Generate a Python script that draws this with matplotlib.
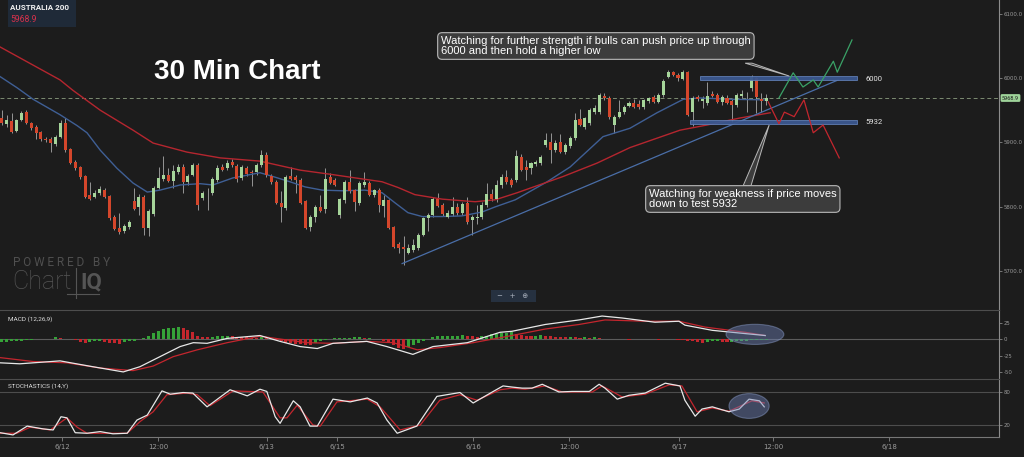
import numpy as np
import matplotlib
matplotlib.use("Agg")
import matplotlib.pyplot as plt
from matplotlib.patches import Rectangle, Ellipse, Polygon

# 30 min candles (one per bar, oldest first)
opens = [5938, 5929, 5933, 5918, 5935, 5947, 5930, 5924, 5916, 5905,
         5905, 5898, 5909, 5930, 5890, 5870, 5862, 5848, 5819, 5816,
         5822, 5826, 5817, 5785, 5768, 5763, 5769, 5809, 5800, 5816,
         5768, 5789, 5830, 5843, 5850, 5840, 5854, 5862, 5839, 5850,
         5865, 5814, 5821, 5822, 5842, 5862, 5860, 5870, 5864, 5845,
         5860, 5854, 5854, 5865, 5881, 5848, 5839, 5806, 5798, 5848,
         5847, 5842, 5809, 5769, 5785, 5800, 5797, 5847, 5842, 5788,
         5811, 5839, 5826, 5806, 5834, 5837, 5819, 5826, 5802, 5811,
         5769, 5743, 5738, 5729, 5733, 5736, 5757, 5783, 5788, 5812,
         5803, 5785, 5789, 5800, 5791, 5806, 5780, 5783, 5785, 5803,
         5820, 5812, 5834, 5847, 5842, 5842, 5878, 5862, 5860, 5866,
         5868, 5896, 5901, 5888, 5901, 5885, 5895, 5907, 5936, 5924,
         5930, 5947, 5947, 5972, 5969, 5927, 5940, 5947, 5957, 5961,
         5960, 5955, 5964, 5971, 5963, 5974, 6002, 6009, 6005, 5998,
         6009, 5947, 5971, 5964, 5961, 5975, 5974, 5962, 5969, 5964,
         5958, 5972, 5973, 5984, 6000, 5967, 5964]
highs = [5950, 5943, 5946, 5937, 5949, 5950, 5932, 5927, 5918, 5909,
         5908, 5912, 5935, 5938, 5892, 5872, 5864, 5850, 5839, 5826,
         5832, 5830, 5819, 5787, 5791, 5773, 5780, 5830, 5820, 5819,
         5797, 5832, 5862, 5879, 5860, 5865, 5866, 5866, 5851, 5868,
         5868, 5825, 5830, 5846, 5865, 5866, 5872, 5874, 5866, 5865,
         5863, 5858, 5868, 5888, 5885, 5851, 5842, 5825, 5850, 5862,
         5850, 5845, 5811, 5788, 5803, 5819, 5860, 5852, 5845, 5814,
         5842, 5857, 5828, 5840, 5854, 5840, 5828, 5830, 5819, 5813,
         5771, 5745, 5755, 5743, 5750, 5760, 5785, 5790, 5815, 5822,
         5806, 5795, 5816, 5806, 5808, 5816, 5788, 5803, 5808, 5837,
         5828, 5842, 5851, 5857, 5845, 5888, 5882, 5873, 5870, 5873,
         5881, 5915, 5915, 5904, 5913, 5899, 5910, 5946, 5952, 5940,
         5953, 5958, 5977, 5977, 5972, 5943, 5966, 5958, 5964, 5967,
         5966, 5968, 5971, 5973, 5977, 5998, 6012, 6011, 6007, 6012,
         6011, 5972, 5974, 5972, 5994, 5980, 5977, 5973, 5974, 5968,
         5977, 5981, 5978, 6005, 6002, 5977, 5975]
lows = [5927, 5924, 5914, 5916, 5933, 5928, 5920, 5905, 5902, 5901,
        5885, 5895, 5907, 5885, 5866, 5857, 5843, 5814, 5811, 5814,
        5819, 5814, 5780, 5764, 5758, 5760, 5766, 5795, 5788, 5757,
        5755, 5786, 5828, 5840, 5838, 5830, 5851, 5822, 5834, 5848,
        5795, 5811, 5795, 5819, 5839, 5855, 5857, 5862, 5839, 5842,
        5848, 5832, 5850, 5862, 5847, 5836, 5804, 5777, 5795, 5842,
        5822, 5805, 5766, 5763, 5777, 5792, 5791, 5835, 5832, 5783,
        5806, 5822, 5794, 5803, 5831, 5817, 5815, 5792, 5785, 5766,
        5736, 5729, 5710, 5727, 5730, 5733, 5755, 5763, 5785, 5800,
        5786, 5782, 5786, 5788, 5788, 5774, 5757, 5774, 5781, 5800,
        5809, 5808, 5830, 5836, 5831, 5838, 5855, 5842, 5851, 5864,
        5865, 5893, 5868, 5885, 5884, 5882, 5892, 5904, 5925, 5921,
        5927, 5944, 5944, 5966, 5936, 5915, 5938, 5944, 5955, 5953,
        5952, 5952, 5961, 5961, 5961, 5971, 6000, 6003, 5995, 5997,
        5941, 5926, 5964, 5953, 5958, 5970, 5961, 5958, 5959, 5932,
        5955, 5969, 5947, 5980, 5946, 5947, 5958]
closes = [5930, 5935, 5916, 5935, 5946, 5930, 5922, 5915, 5905, 5904,
          5899, 5909, 5930, 5888, 5868, 5860, 5847, 5816, 5812, 5822,
          5828, 5816, 5783, 5766, 5761, 5771, 5777, 5797, 5816, 5768,
          5794, 5830, 5845, 5850, 5840, 5856, 5862, 5839, 5848, 5865,
          5803, 5822, 5822, 5843, 5860, 5857, 5868, 5865, 5843, 5862,
          5851, 5853, 5865, 5881, 5850, 5839, 5806, 5800, 5847, 5843,
          5842, 5806, 5768, 5785, 5800, 5794, 5843, 5837, 5834, 5812,
          5839, 5825, 5808, 5837, 5839, 5819, 5826, 5803, 5811, 5768,
          5738, 5736, 5735, 5736, 5741, 5757, 5783, 5788, 5812, 5802,
          5789, 5791, 5800, 5791, 5805, 5777, 5785, 5785, 5803, 5820,
          5812, 5834, 5847, 5839, 5834, 5879, 5857, 5857, 5868, 5870,
          5878, 5904, 5888, 5899, 5885, 5896, 5907, 5935, 5927, 5938,
          5950, 5953, 5974, 5969, 5940, 5940, 5947, 5955, 5961, 5955,
          5955, 5966, 5969, 5963, 5974, 5995, 6009, 6005, 6000, 6009,
          5943, 5969, 5968, 5968, 5972, 5972, 5962, 5971, 5961, 5958,
          5974, 5975, 5974, 6002, 5971, 5965, 5969]
last_price = 5968.9

# moving averages (bar index, price)
ma_fast_x = [-0.3, 3.1, 6.4, 11.9, 15.4, 17.4, 20.1, 23.5, 26.8, 29.7, 32.3, 36.4,
             40.5, 43.1, 47.2, 52.7, 55.4, 58.8, 61.9, 65.4, 69.5, 74.1, 77.6, 80.3,
             82.9, 85.8, 89.9, 93.9, 98.0, 100.7, 104.8, 111.3, 116.0, 122.7, 128.2,
             133.7, 139.1, 142.5, 148.6, 156.0]
ma_fast_y = [6002, 5985, 5967, 5943, 5926, 5915, 5888, 5860, 5837, 5823, 5826, 5834,
             5836, 5834, 5845, 5853, 5847, 5839, 5831, 5826, 5825, 5826, 5822, 5806,
             5791, 5785, 5785, 5786, 5792, 5800, 5811, 5839, 5862, 5909, 5922,
             5946, 5967, 5969, 5967, 5966]
ma_slow_x = [-0.3, 11.9, 14.5, 20.1, 26.8, 30.9, 37.8, 44.6, 52.7, 56.2, 60.9, 67.6,
             72.1, 77.6, 80.9, 84.3, 89.9, 96.6, 100.7, 105.2, 114.5, 121.5, 128.2,
             138.4, 143.9, 150.7, 156.8]
ma_slow_y = [6048, 5997, 5981, 5950, 5919, 5899, 5885, 5876, 5871, 5865, 5857, 5850,
             5845, 5839, 5830, 5819, 5812, 5808, 5811, 5822, 5847, 5868, 5892,
             5919, 5927, 5938, 5946]

# drawn trend line and scenario paths
trend_x = [81.7, 170.7]
trend_y = [5712, 5997]
bull_x = [158.6, 161.5, 163.5, 165.6, 166.6, 169.7, 170.5, 173.5]
bull_y = [5969, 6008, 5986, 5997, 5986, 6026, 6009, 6059]
bear_x = [156.4, 158.6, 159.7, 161.7, 163.7, 165.6, 167.6, 170.9]
bear_y = [5963, 5929, 5947, 5940, 5966, 5915, 5927, 5876]
levels = [6000, 5932]
level_start = [142.5, 140.5]
level_end = 174.6

# MACD (12,26,9)
macd_x = [-0.3, 3.7, 11.9, 18.6, 24.8, 28.2, 32.3, 36.4, 39.1, 41.9, 46.0, 52.7,
          56.8, 60.9, 64.4, 67.6, 74.5, 78.6, 83.9, 88.0, 95.0, 101.7, 104.1, 110.9,
          117.8, 122.5, 126.6, 133.3, 138.2, 139.4, 145.0, 151.7, 155.8]
macd_y = [-36, -37.5, -33, -42, -50, -42, -26.5, -11, -5, -6, 1.6, 6,
          -3, -11, -14, -6, -3, -11, -23, -11, -5, 11, 12.5, 23,
          30, 36, 33, 26.5, 28, 22, 14, 9, 6]
signal_x = [-0.3, 6.4, 13.3, 20.1, 26.8, 30.9, 35.0, 39.9, 46.0, 52.7, 57.4, 62.3,
            67.6, 74.5, 79.9, 84.8, 89.5, 96.2, 104.1, 110.9, 117.8, 123.1, 131.3,
            138.2, 143.5, 151.7, 155.8]
signal_y = [-28, -34, -36, -44, -48, -41, -26.5, -16, -5, 5, 0, -5,
            -6, -3, -5, -16, -12.5, -5, 6, 16, 23, 30, 28,
            28, 19, 11, 6]
hist = [-4, -4, -3, -3, -2, -1, -1, 0, 0, 0, 1,
        3, 2, 1, 0, -1, -4, -5, -4, -3, -3,
        -4, -5, -6, -6.5, -4, -3, -2,
        0, 2, 5, 10, 13, 16, 17, 18, 19,
        17, 15, 11, 6, 4, 3, 4, 5, 5, 6,
        5, 4, 3.5, 3, 2, 1.5, 3, 2, 1,
        -1, -3, -5, -6, -6.5, -7, -8, -8.5,
        -5, -3, -1, 1, 2, 2, 2, 2, 3, 3,
        2, 2, 1, 0, -2, -5, -9, -13, -14,
        -12, -9, -6, -3, 1, 4, 5, 6, 6, 6, 6, 7,
        6, 5, 4, 5, 6, 8, 9, 10, 10, 11,
        8, 7, 6, 5, 6, 7, 6, 5, 4, 3.5, 3,
        4, 3, 2.5, 3, 2.5, 3, 2, 1, 0.5,
        0.3, 0.2, 0, -0.2, 0, 0.3, 0.5, 0.3, 0, -0.3, 0, 0.2, 0, -0.5,
        -1, -2, -3, -4, -5, -4, -3, -2.5, -3.5, -4.5,
        -4, -3, -2.5, -2, -1.5, -1, -0.8, -0.5]

# Stochastics (14)
stk_x = [-0.3, 2.3, 5.2, 8.4, 10.5, 12.1, 13.3, 15.0, 17.4, 20.1,
         22.7, 25.6, 27.6, 29.7, 32.7, 34.4, 37.0, 39.0, 41.9, 46.6,
         50.1, 52.7, 54.1, 55.8, 56.8, 59.5, 60.9, 62.9, 64.4, 67.6,
         71.1, 74.6, 76.6, 78.6, 80.7, 84.7, 88.8, 93.5, 96.2, 100.3,
         102.3, 104.1, 106.2, 108.2, 110.3, 113.7, 116.4, 119.9, 121.9, 123.1,
         125.6, 128.0, 131.3, 135.4, 138.4, 139.4, 141.5, 142.9, 145.0, 148.4,
         150.5, 152.5, 154.6, 155.6]
stk_y = [6, 2, 18, 13, 11, 35, 33, 6, 5, 8,
         4, 5, 29, 38, 82, 76, 79, 78, 53, 84,
         73, 85, 81, 35, 23, 64, 53, 18, 18, 67,
         62, 69, 60, 29, 5, 18, 72, 79, 60, 81,
         91, 89, 87, 87, 94, 80, 81, 81, 94, 87,
         67, 74, 78, 96, 91, 65, 36, 49, 53, 44,
         49, 67, 64, 53]
std_x = [-0.3, 3.1, 5.8, 9.9, 13.3, 15.4, 17.4, 25.6, 28.2, 30.9,
         33.7, 37.8, 39.9, 42.5, 47.2, 53.3, 56.8, 58.2, 60.3, 63.5,
         65.0, 68.4, 74.6, 77.2, 81.3, 85.4, 89.4, 93.5, 97.0, 101.7,
         104.1, 106.8, 110.9, 114.4, 120.5, 122.5, 126.6, 131.3, 136.2, 138.8,
         141.9, 145.0, 148.4, 153.1, 155.6]
std_y = [5, 5, 16, 11, 33, 16, 5, 5, 26, 44,
         75, 78, 75, 55, 82, 80, 33, 33, 56, 20,
         18, 62, 67, 53, 11, 20, 65, 75, 65, 84,
         87, 85, 91, 80, 80, 91, 71, 76, 93, 91,
         44, 51, 45, 64, 60]

tick_pos = [12.3, 31.9, 54.1, 68.4, 96.2, 115.8, 138.2, 157.4, 181.1]
tick_lab = ['6/12', '12:00', '6/13', '6/15', '6/16', '12:00', '6/17', '12:00', '6/18']

bg = '#1c1c1c'
up_c = '#a6d59a'
dn_c = '#d4462b'
grid_c = '#4d4d4d'
lab_c = '#9a9a9a'

o = np.array(opens, float)
h = np.array(highs, float)
l = np.array(lows, float)
c = np.array(closes, float)
x = np.arange(len(c))

fig = plt.figure(figsize=(10.24, 4.57), dpi=100, facecolor=bg)
W, H = 1024, 457
xr = 999 / W
ax = fig.add_axes([0, 1 - 310 / H, xr, 310 / H])
axm = fig.add_axes([0, 1 - 379 / H, xr, 69 / H], sharex=ax)
axs = fig.add_axes([0, 1 - 437 / H, xr, 58 / H], sharex=ax)

for a in (ax, axm, axs):
    a.set_facecolor(bg)
    for s in a.spines.values():
        s.set_visible(False)
    a.spines['right'].set_visible(True)
    a.spines['right'].set_color('#8c8c8c')
    a.spines['right'].set_linewidth(0.8)
    a.yaxis.tick_right()
    a.tick_params(axis='y', colors=lab_c, labelsize=3.9, length=2, width=0.5, pad=1.5)
    a.tick_params(axis='x', bottom=False, labelbottom=False)
axm.spines['top'].set_visible(True)
axm.spines['top'].set_color(grid_c)
axs.spines['top'].set_visible(True)
axs.spines['top'].set_color(grid_c)
axs.spines['bottom'].set_visible(True)
axs.spines['bottom'].set_color('#777777')

# main price panel
ax.set_xlim(-0.35, 203.5)
ax.set_ylim(5640, 6121)
ax.set_yticks([5700, 5800, 5900, 6000, 6100])
ax.set_yticklabels([f'{v:.1f}' for v in [5700, 5800, 5900, 6000, 6100]])

rising = c >= o
cols = np.where(rising, up_c, dn_c)
ax.vlines(x, l, h, color='#a8a8a8', lw=0.6, zorder=2)
ax.bar(x, np.maximum(np.abs(c - o), 1.2), bottom=np.minimum(o, c), width=0.62,
       color=cols, zorder=3)

ax.plot(ma_fast_x, ma_fast_y, color='#3f5f95', lw=1.0, zorder=2)
ax.plot(ma_slow_x, ma_slow_y, color='#b5262f', lw=1.0, zorder=2)
ax.plot(trend_x, trend_y, color='#4a6ea8', lw=0.9, zorder=2)
ax.axhline(last_price, color='#7d8c72', lw=0.7, ls=(0, (4, 3)), zorder=1)

for lv, x0 in zip(levels, level_start):
    ax.add_patch(Rectangle((x0, lv - 3), level_end - x0, 6, fc='#3b5890',
                           ec='#6280b8', lw=0.6, alpha=0.95, zorder=4))
    ax.text(level_end + 1.7, lv - (1.5 if lv == 6000 else 0), str(lv), color='#e6e6e6',
            fontsize=5.5, va='center', ha='left', family='Roboto')

ax.plot(bull_x, bull_y, color='#3aa267', lw=0.9, zorder=5)
ax.plot(bear_x, bear_y, color='#c4262e', lw=0.9, zorder=5)

# callout pointers
ax.add_patch(Polygon([(151.7, 6023), (153.1, 6023), (160.7, 6003)], closed=True,
                     fc='#3c3c3c', ec='#b8b8b8', lw=0.7, zorder=6))
ax.add_patch(Polygon([(151.3, 5833), (152.9, 5833), (156.6, 5927)], closed=True,
                     fc='#3c3c3c', ec='#b8b8b8', lw=0.7, zorder=6))

box = dict(boxstyle='round,pad=0.3,rounding_size=0.4', fc='#3c3c3c', ec='#b8b8b8', lw=0.8)
fig.text(441 / W, 1 - 36 / H,
         'Watching for further strength if bulls can push price up through\n'
         '6000 and then hold a higher low',
         color='white', fontsize=8, family='Liberation Sans', va='top', ha='left',
         linespacing=1.0, bbox=box, zorder=10)
fig.text(649 / W, 1 - 189 / H,
         'Watching for weakness if price moves\ndown to test 5932',
         color='white', fontsize=8, family='Liberation Sans', va='top', ha='left',
         linespacing=1.0, bbox=box, zorder=10)

fig.text(237 / W, 1 - 72 / H, '30 Min Chart', color='white', fontsize=20,
         fontweight='bold', family='Liberation Sans', ha='center', va='center')

# instrument box
fig.patches.append(Rectangle((8 / W, 1 - 27 / H), 68 / W, 27 / H, fc='#1f2a38',
                             transform=fig.transFigure, figure=fig, zorder=0))
fig.text(10 / W, 1 - 8 / H, 'AUSTRALIA 200', color='#f0f0f0', fontsize=5.8,
         fontweight='bold', family='Roboto', va='center')
fig.text(10 / W, 1 - 20 / H, f'{last_price:.1f}', color='#d8314c', fontsize=6.2,
         family='Roboto', va='center')

# last price tag
fig.text(1002 / W, 1 - 98 / H, f'{last_price:.1f}', color='#1c1c1c', fontsize=4.0,
         family='Roboto', va='center', ha='left',
         bbox=dict(boxstyle='round,pad=0.25', fc='#9fd49a', ec='none'))

# watermark
fig.text(13 / W, 1 - 262 / H, 'P O W E R E D   B Y', color='#4f4f4f', fontsize=8.5,
         family='Roboto', va='center')
fig.text(12 / W, 1 - 282 / H, 'Chart', color='#555555', fontsize=18,
         family='Roboto', fontweight='light', va='center')
fig.text(80 / W, 1 - 282 / H, 'IQ', color='#555555', fontsize=16,
         family='Roboto', fontweight='bold', va='center')
fig.lines.append(plt.Line2D([76 / W, 76 / W], [1 - 268 / H, 1 - 298 / H],
                            color='#555555', lw=0.8, transform=fig.transFigure))
fig.lines.append(plt.Line2D([67 / W, 99 / W], [1 - 294 / H, 1 - 294 / H],
                            color='#555555', lw=0.8, transform=fig.transFigure))

# zoom buttons
fig.patches.append(Rectangle((491 / W, 1 - 302 / H), 45 / W, 12 / H, fc='#263140',
                             transform=fig.transFigure, figure=fig))
fig.text(513 / W, 1 - 296 / H, '−   +   ⊕', color='#a8b0bc', fontsize=5,
         family='DejaVu Sans', ha='center', va='center')

# MACD panel
axm.set_ylim(-60.9, 45.3)
axm.set_yticks([-50, -25, 0, 25])
axm.set_yticklabels(['-50', '-25', '0', '25'])
axm.axhline(0, color='#5c5c5c', lw=0.8, zorder=1)
hv = np.array(hist, float)
hcol = np.where(np.diff(hv, prepend=hv[0]) >= 0, '#35a238', '#c4262d')
axm.bar(x, hv, width=0.62, color=hcol, zorder=2)
axm.plot(signal_x, signal_y, color='#c4262e', lw=0.9, zorder=3)
axm.plot(macd_x, macd_y, color='#e8e8e8', lw=0.9, zorder=3)
axm.add_patch(Ellipse((153.7, 7.8), 11.8, 31, fc='#6f82b8', ec='#8fa2d0',
                      lw=0.8, alpha=0.45, zorder=4))
axm.text(0.008, 0.87, 'MACD (12,26,9)', transform=axm.transAxes, color='#dddddd',
         fontsize=4.6, family='Roboto', va='center')

# Stochastics panel
axs.set_ylim(-1.8, 103.6)
axs.set_yticks([20, 80])
axs.axhline(80, color=grid_c, lw=0.8, zorder=1)
axs.axhline(20, color=grid_c, lw=0.8, zorder=1)
axs.plot(std_x, std_y, color='#c4262e', lw=0.9, zorder=3)
axs.plot(stk_x, stk_y, color='#e8e8e8', lw=0.9, zorder=3)
axs.add_patch(Ellipse((152.5, 54.5), 8.2, 45, fc='#6f82b8', ec='#8fa2d0',
                      lw=0.8, alpha=0.45, zorder=4))
axs.text(0.008, 0.88, 'STOCHASTICS (14,Y)', transform=axs.transAxes, color='#dddddd',
         fontsize=4.6, family='Roboto', va='center')

axs.set_xticks(tick_pos)
axs.set_xticklabels(tick_lab)
axs.tick_params(axis='x', bottom=True, labelbottom=True, colors=lab_c, labelsize=5,
                length=3, width=0.5, pad=2)
axs.set_xlim(-0.35, 203.5)

fig.savefig('out.png', dpi=100, facecolor=bg)
